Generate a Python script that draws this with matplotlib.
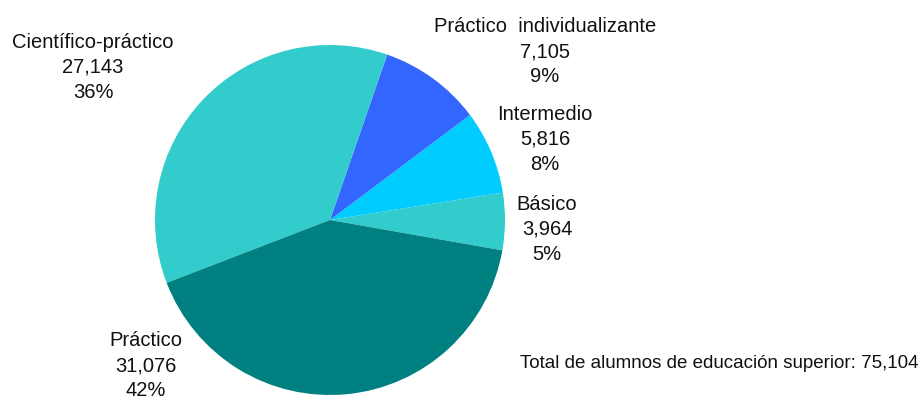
import matplotlib.pyplot as plt

categorias = ['Básico', 'Intermedio', 'Práctico  individualizante', 'Científico-práctico', 'Práctico']
alumnos = [3964, 5816, 7105, 27143, 31076]
porcentajes = [5, 8, 9, 36, 42]
colores = ['#33CCCC', '#00CCFF', '#3366FF', '#33CCCC', '#008080']
total = sum(alumnos)

# label centres in pixel coordinates (x, y from top)
pos_etiquetas = [(547, 229), (545, 139), (545, 52), (93, 67), (146, 366)]

plt.rcParams['font.family'] = ['Liberation Sans', 'DejaVu Sans']

fig = plt.figure(figsize=(9.19, 4.0), dpi=100)
ax = fig.add_axes([0, 0, 1, 1])

ax.pie(alumnos, colors=colores, startangle=-10, counterclock=True,
       center=(330, 180), radius=175, frame=True,
       wedgeprops=dict(linewidth=0))
ax.set_xlim(0, 919)
ax.set_ylim(0, 400)
ax.set_aspect('equal')
ax.axis('off')

for nombre, valor, pct, (x, y) in zip(categorias, alumnos, porcentajes, pos_etiquetas):
    ax.text(x, 400 - y, f'{nombre}\n{valor:,}\n{pct}%', ha='center', va='center',
            fontsize=14.5, linespacing=1.4, color='#111111')

ax.text(918, 400 - 363, f'Total de alumnos de educación superior: {total:,}',
        ha='right', va='center', fontsize=13.5, color='#111111')

fig.savefig('out.png', dpi=100)
